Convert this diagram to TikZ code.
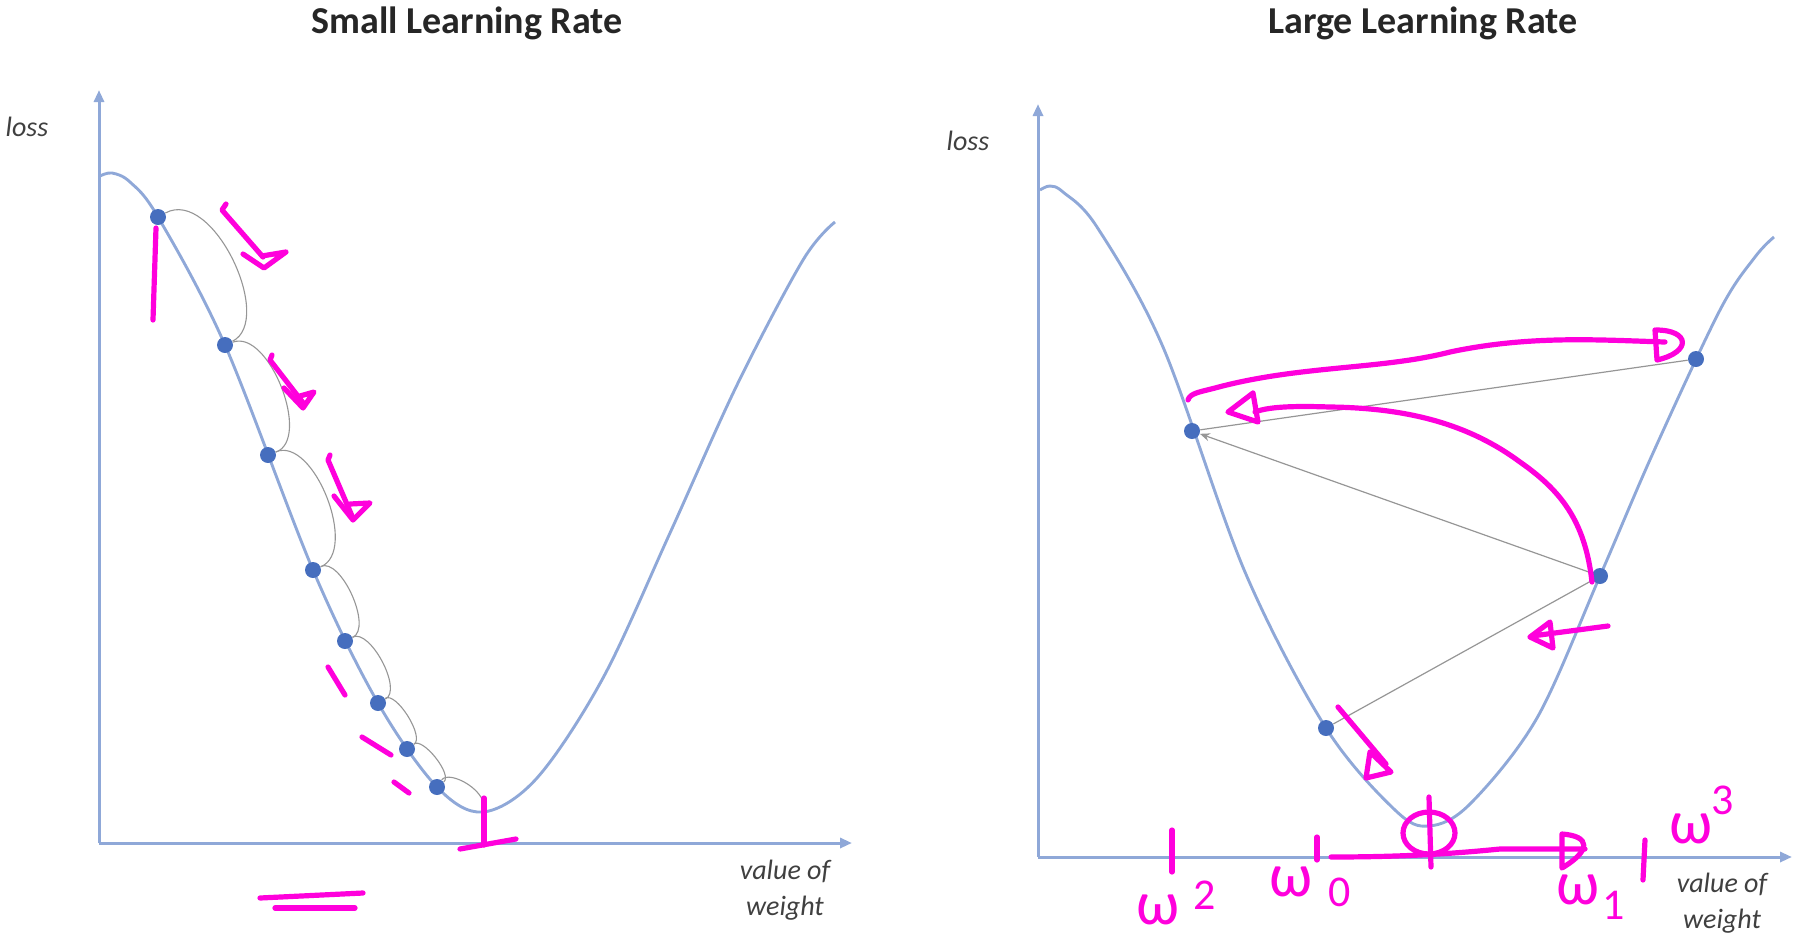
\documentclass[tikz,border=0pt]{standalone}
\usepackage{fontspec}
\setmainfont{Carlito}
\usetikzlibrary{arrows.meta}
\definecolor{curveblue}{RGB}{143,168,216}
\definecolor{dotblue}{RGB}{70,110,190}
\definecolor{hand}{RGB}{255,0,220}
\definecolor{arcgray}{RGB}{150,150,150}
\begin{document}
\begin{tikzpicture}[x=0.5pt,y=-0.5pt,
  curve/.style={curveblue,line width=1.45pt},
  axis/.style={curveblue,line width=1.5pt,-{Triangle[length=6pt,width=5pt]}},
  dot/.style={circle,fill=dotblue,inner sep=0pt,minimum size=8pt},
  arcstep/.style={arcgray,line width=0.55pt},
  jump/.style={arcgray,line width=0.6pt},
  jumparrow/.style={jump,-{Stealth[length=5pt,width=4pt]}},
  ink/.style={hand,line width=2.6pt,line cap=round,line join=round},
  title/.style={font=\fontsize{19}{22}\selectfont\bfseries,text=black!85},
  axlabel/.style={font=\fontsize{14}{16}\selectfont\itshape,text=black!75,align=center},
  bigw/.style={text=hand,inner sep=0pt,font=\fontsize{31}{31}\selectfont},
  smalln/.style={text=hand,inner sep=0pt,font=\fontsize{22}{22}\selectfont}
]
\useasboundingbox (0,0) rectangle (1796,939);

% ---------------- left panel ----------------
\node[title] (t1) at (467,23) {Small Learning Rate};
\coordinate (o1) at (99,843);
\coordinate (ytop1) at (99,90);
\coordinate (xend1) at (852,843);
\draw[axis] (o1) -- (ytop1);
\draw[axis] (o1) -- (xend1);
\node[axlabel] (loss1) at (27,127) {loss};
\node[axlabel] (vw1) at (785,890) {value of\\[2pt]weight};

\draw[curve] plot[smooth,tension=0.55] coordinates {(100,176) (112,173) (130,182) (158,217) (225,345) (313,570) (378,703) (437,787) (483,812) (537,778) (603,678) (670,533) (737,385) (803,260) (835,222)};

\node[dot] (a1) at (158,217) {};
\node[dot] (a2) at (225,345) {};
\node[dot] (a3) at (268,455) {};
\node[dot] (a4) at (313,570) {};
\node[dot] (a5) at (345,641) {};
\node[dot] (a6) at (378,703) {};
\node[dot] (a7) at (407,749) {};
\node[dot] (a8) at (437,787) {};
\coordinate (amin) at (483,812);

\draw[arcstep] (a1) .. controls +(55,-30) and +(50,-25) .. (a2);
\draw[arcstep] (a2) .. controls +(44,-16) and +(44,-16) .. (a3);
\draw[arcstep] (a3) .. controls +(46,-19) and +(46,-19) .. (a4);
\draw[arcstep] (a4) .. controls +(28,-13) and +(28,-13) .. (a5);
\draw[arcstep] (a5) .. controls +(25,-13) and +(25,-13) .. (a6);
\draw[arcstep] (a6) .. controls +(18,-12) and +(18,-12) .. (a7);
\draw[arcstep] (a7) .. controls +(16,-12) and +(16,-12) .. (a8);
\draw[arcstep] (a8) .. controls +(12,-18) and +(8,-20) .. (amin);

% magenta annotations (left)
\draw[ink] (156,228) -- (153,320);
\draw[ink] (226,204) -- (222,210) -- (263,257);
\draw[ink] (243,254) -- (264,268) -- (286,252) -- (262,256);
\draw[ink] (272,355) -- (270,360) -- (304,404);
\draw[ink] (284,388) -- (303,408) -- (314,392) -- (300,396);
\draw[ink] (330,455) -- (328,460) -- (352,516);
\draw[ink] (334,496) -- (353,520) -- (370,503) -- (350,504);
\draw[ink] (328,667) -- (345,695);
\draw[ink] (362,737) -- (391,755);
\draw[ink] (394,782) -- (409,793);
\draw[ink] (484,798) -- (484,845);
\draw[ink] (460,849) -- (516,839);
\draw[ink] (260,898) -- (363,893);
\draw[ink] (275,908) -- (355,908);

% ---------------- right panel ----------------
\node[title] (t2) at (1423,23) {Large Learning Rate};
\coordinate (o2) at (1038,857);
\coordinate (ytop2) at (1038,104);
\coordinate (xend2) at (1792,857);
\draw[axis] (o2) -- (ytop2);
\draw[axis] (o2) -- (xend2);
\node[axlabel] (loss2) at (968,141) {loss};
\node[axlabel] (vw2) at (1722,903) {value of\\[2pt]weight};

\draw[curve] plot[smooth,tension=0.55] coordinates {(1040,190) (1050,186) (1063,192) (1097,227) (1163,347) (1245,572) (1326,728) (1395,810) (1429,826) (1470,804) (1537,718) (1600,576) (1653,453) (1720,310) (1755,257) (1774,237)};

\node[dot] (w2) at (1192,431) {};
\node[dot] (w0) at (1326,728) {};
\node[dot] (w1) at (1600,576) {};
\node[dot] (w3) at (1696,359) {};

\draw[jump] (w0) -- (w1);
\draw[jumparrow] (w1) -- (w2);
\draw[jump] (w3) -- (w2);

% magenta annotations (right)
\draw[ink] (1188,400) .. controls (1190,393) and (1200,392) .. (1215,388) .. controls (1300,365) and (1380,370) .. (1450,352) .. controls (1530,335) and (1600,340) .. (1665,342);
\draw[ink] (1656,330) .. controls (1690,330) and (1692,352) .. (1657,360) -- (1655,330);
\draw[ink] (1592,582) .. controls (1585,520) and (1560,490) .. (1520,462) .. controls (1470,425) and (1410,408) .. (1330,407) .. controls (1300,406) and (1270,406) .. (1255,412);
\draw[ink] (1253,393) -- (1228,412) -- (1258,422) -- (1253,393);
\draw[ink] (1608,626) -- (1532,636);
\draw[ink] (1530,637) -- (1550,622) -- (1553,648) -- (1530,637);
\draw[ink] (1338,707) -- (1386,764);
\draw[ink] (1370,752) -- (1391,772) -- (1366,778) -- (1370,752);
\draw[ink] (1429,833) ellipse [x radius=26, y radius=21];
\draw[ink] (1429,797) -- (1431,867);
\draw[ink] (1331,857) .. controls (1400,857) and (1450,854) .. (1500,849) -- (1585,849);
\draw[ink] (1562,834) .. controls (1590,836) and (1592,850) .. (1562,868) -- (1562,834);
\draw[ink] (1172,830) -- (1172,872);
\draw[ink] (1317,837) -- (1317,860);
\draw[ink] (1645,840) -- (1643,880);

\node[bigw] (lw2) at (1158,910) {ω};
\node[smalln] (lw2s) at (1205,895) {2};
\node[bigw] (lw0) at (1291,882) {ω};
\node[smalln] (lw0s) at (1340,892) {0};
\node[bigw] (lw1) at (1578,890) {ω};
\node[smalln] (lw1s) at (1614,905) {1};
\node[bigw] (lw3) at (1691,829) {ω};
\node[smalln] (lw3s) at (1723,800) {3};
\end{tikzpicture}
\end{document}
